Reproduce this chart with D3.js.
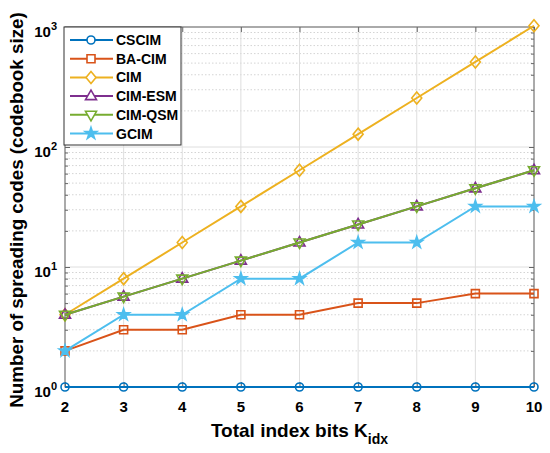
<!DOCTYPE html>
<html>
<head>
<meta charset="utf-8">
<script src="https://cdn.jsdelivr.net/npm/d3@7"></script>
<style>
  body { margin: 0; background: #fff; }
  text { font-family: "Liberation Sans", Arial, sans-serif; font-weight: bold; fill: #000; }
</style>
</head>
<body>
<div id="chart-area"></div>
<script>
// data
var kIdx    = [2, 3, 4, 5, 6, 7, 8, 9, 10];
var cscim   = [1, 1, 1, 1, 1, 1, 1, 1, 1];
var baCim   = [2, 3, 3, 4, 4, 5, 5, 6, 6];
var cim     = [4, 8, 16, 32, 64, 128, 256, 512, 1024];
var cimEsm  = [4, 5.66, 8, 11.31, 16, 22.63, 32, 45.25, 64];
var cimQsm  = [4, 5.66, 8, 11.31, 16, 22.63, 32, 45.25, 64];
var gcim    = [2, 4, 4, 8, 8, 16, 16, 32, 32];
var seriesNames = ["CSCIM", "BA-CIM", "CIM", "CIM-ESM", "CIM-QSM", "GCIM"];
var xTicks = [2, 3, 4, 5, 6, 7, 8, 9, 10];
var yTicks = [1, 10, 100, 1000];

var colors  = ["#0072BD", "#D95319", "#EDB120", "#7E2F8E", "#77AC30", "#4DBEEE"];
var markers = ["circle", "square", "diamond", "triUp", "triDown", "star"];
var allValues = [cscim, baCim, cim, cimEsm, cimQsm, gcim];

var svgWidth = 550, svgHeight = 453;
var margin = { top: 27, left: 65, right: 16, bottom: 66 };
var width  = svgWidth - margin.left - margin.right;
var height = svgHeight - margin.top - margin.bottom;

var svg = d3.select("#chart-area")
            .append("svg")
            .attr("width", svgWidth)
            .attr("height", svgHeight);

var g = svg.append("g")
           .attr("transform", "translate(" + margin.left + "," + margin.top + ")");

var x = d3.scaleLinear().domain([2, 10]).range([0, width]);
var y = d3.scaleLog().domain([1, 1000]).range([height, 0]);

// minor values for log grid
var minorY = [];
[1, 10, 100].forEach(function(dec) {
    for (var m = 2; m <= 9; m++) minorY.push(dec * m);
});

// grid
g.append("g").selectAll("line")
 .data(minorY).enter().append("line")
 .attr("x1", 0).attr("x2", width)
 .attr("y1", function(d) { return y(d); }).attr("y2", function(d) { return y(d); })
 .attr("stroke", "#d4d4d4").attr("stroke-width", 1).attr("stroke-dasharray", "1.5,2");

g.append("g").selectAll("line")
 .data(xTicks).enter().append("line")
 .attr("x1", function(d) { return x(d); }).attr("x2", function(d) { return x(d); })
 .attr("y1", 0).attr("y2", height)
 .attr("stroke", "#dedede").attr("stroke-width", 1);

g.append("g").selectAll("line")
 .data(yTicks).enter().append("line")
 .attr("x1", 0).attr("x2", width)
 .attr("y1", function(d) { return y(d); }).attr("y2", function(d) { return y(d); })
 .attr("stroke", "#dedede").attr("stroke-width", 1);

// axes (ticks inward, box style)
var axisColor = "#666";
function styleAxis(sel) {
    sel.select(".domain").remove();
    sel.selectAll("line").attr("stroke", axisColor);
    sel.selectAll("text").remove();
}
g.append("g").attr("transform", "translate(0," + height + ")")
 .call(d3.axisBottom(x).tickValues(xTicks).tickSizeInner(-5).tickSizeOuter(0)).call(styleAxis);
g.append("g")
 .call(d3.axisTop(x).tickValues(xTicks).tickSizeInner(-5).tickSizeOuter(0)).call(styleAxis);
g.append("g")
 .call(d3.axisLeft(y).tickValues(yTicks).tickSizeInner(-5).tickSizeOuter(0)).call(styleAxis);
g.append("g")
 .call(d3.axisLeft(y).tickValues(minorY).tickSizeInner(-3).tickSizeOuter(0)).call(styleAxis);
g.append("g").attr("transform", "translate(" + width + ",0)")
 .call(d3.axisRight(y).tickValues(yTicks).tickSizeInner(-5).tickSizeOuter(0)).call(styleAxis);
g.append("g").attr("transform", "translate(" + width + ",0)")
 .call(d3.axisRight(y).tickValues(minorY).tickSizeInner(-3).tickSizeOuter(0)).call(styleAxis);

g.append("rect")
 .attr("width", width).attr("height", height)
 .attr("fill", "none").attr("stroke", axisColor).attr("stroke-width", 1);

// tick labels
g.append("g").selectAll("text")
 .data(xTicks).enter().append("text")
 .attr("x", function(d) { return x(d); })
 .attr("y", height + 25)
 .attr("text-anchor", "middle")
 .attr("font-size", "15px")
 .text(function(d) { return d; });

var yLab = g.append("g").selectAll("text")
 .data(yTicks).enter().append("text")
 .attr("x", -8)
 .attr("y", function(d) { return y(d) + 10; })
 .attr("text-anchor", "end")
 .attr("font-size", "15px");
yLab.append("tspan").text("10");
yLab.append("tspan").attr("dy", -7).attr("font-size", "11px")
    .text(function(d) { return Math.round(Math.log10(d)); });

// axis titles
var xt = svg.append("text")
 .attr("x", margin.left + width / 2)
 .attr("y", 437)
 .attr("text-anchor", "middle")
 .attr("font-size", "19px");
xt.append("tspan").text("Total index bits K");
xt.append("tspan").attr("dy", 7).attr("font-size", "14px").text("idx");

svg.append("text")
 .attr("transform", "translate(23," + 210 + ") rotate(-90)")
 .attr("text-anchor", "middle")
 .attr("font-size", "18.8px")
 .text("Number of spreading codes (codebook size)");

// marker shapes
function markerPath(type) {
    switch (type) {
        case "circle":  return "M-4,0A4,4 0 1,0 4,0A4,4 0 1,0 -4,0Z";
        case "square":  return "M-4,-4H4V4H-4Z";
        case "diamond": return "M0,-6L5,0L0,6L-5,0Z";
        case "triUp":   return "M0,-6L5.5,3.5L-5.5,3.5Z";
        case "triDown": return "M0,6L5.5,-3.5L-5.5,-3.5Z";
        case "star":    return d3.symbol().type(d3.symbolStar).size(42)();
    }
}

var line = d3.line()
             .x(function(d) { return x(d.k); })
             .y(function(d) { return y(d.v); });

allValues.forEach(function(vals, i) {
    var pts = kIdx.map(function(k, j) { return { k: k, v: vals[j] }; });
    var sg = g.append("g");
    sg.append("path")
      .datum(pts)
      .attr("d", line)
      .attr("fill", "none")
      .attr("stroke", colors[i])
      .attr("stroke-width", 2);
    sg.selectAll("path.mk")
      .data(pts).enter().append("path")
      .attr("class", "mk")
      .attr("transform", function(d) { return "translate(" + x(d.k) + "," + y(d.v) + ")"; })
      .attr("d", markerPath(markers[i]))
      .attr("fill", markers[i] === "star" ? colors[i] : "none")
      .attr("stroke", colors[i])
      .attr("stroke-width", 1.6);
});

// legend
var legend = g.append("g");
legend.append("rect")
      .attr("x", -1).attr("y", 0)
      .attr("width", 117).attr("height", 118)
      .attr("fill", "#fff").attr("stroke", "#333").attr("stroke-width", 1);

var items = legend.selectAll("g.item")
      .data(seriesNames).enter().append("g")
      .attr("class", "item")
      .attr("transform", function(d, i) { return "translate(0," + (13 + i * 18.7) + ")"; });
items.append("line")
     .attr("x1", 5).attr("x2", 48).attr("y1", 0).attr("y2", 0)
     .attr("stroke", function(d, i) { return colors[i]; })
     .attr("stroke-width", 2);
items.append("path")
     .attr("transform", "translate(26,0)")
     .attr("d", function(d, i) { return markerPath(markers[i]); })
     .attr("fill", function(d, i) { return markers[i] === "star" ? colors[i] : "#fff"; })
     .attr("stroke", function(d, i) { return colors[i]; })
     .attr("stroke-width", 1.6);
items.append("text")
     .attr("x", 51).attr("y", 5)
     .attr("font-size", "14px")
     .text(function(d) { return d; });
</script>
</body>
</html>
